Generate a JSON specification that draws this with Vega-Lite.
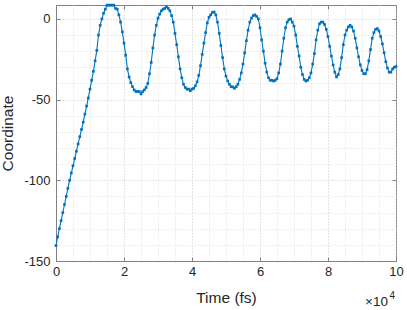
{
  "$schema": "https://vega.github.io/schema/vega-lite/v6.json",
  "width": 340,
  "height": 256,
  "autosize": {"type": "none"},
  "padding": {"left": 56, "top": 5, "right": 11, "bottom": 49},
  "background": "white",
  "config": {"view": {"stroke": "#808080", "strokeWidth": 1}, "font": "Liberation Sans"},
  "data": {"values": [
    {"t":0,"c":-140.5},{"t":500,"c":-135},{"t":1000,"c":-130},{"t":1500,"c":-125},{"t":2000,"c":-120},
    {"t":2500,"c":-115},{"t":3000,"c":-110},{"t":3500,"c":-105},{"t":4000,"c":-100},{"t":4500,"c":-95.5},
    {"t":5000,"c":-91},{"t":5500,"c":-86.5},{"t":6000,"c":-82},{"t":6500,"c":-77.5},{"t":7000,"c":-73},
    {"t":7500,"c":-68.5},{"t":8000,"c":-64},{"t":8500,"c":-59},{"t":9000,"c":-54},{"t":9500,"c":-49},
    {"t":10000,"c":-43.5},{"t":10500,"c":-38},{"t":11000,"c":-32.5},{"t":11500,"c":-26},{"t":12000,"c":-19.5},
    {"t":12500,"c":-10},{"t":13000,"c":-4},{"t":13500,"c":0},{"t":14000,"c":3.5},{"t":14500,"c":6},
    {"t":15000,"c":8.5},{"t":15500,"c":8.5},{"t":16000,"c":8.5},{"t":16500,"c":8.5},{"t":17000,"c":8.5},
    {"t":17500,"c":6.5},{"t":18000,"c":6},{"t":18500,"c":2.5},{"t":19000,"c":-2},{"t":19500,"c":-8},
    {"t":20000,"c":-15},{"t":20500,"c":-22.5},{"t":21000,"c":-31},{"t":21500,"c":-36},{"t":22000,"c":-39.5},
    {"t":22500,"c":-42},{"t":23000,"c":-44},{"t":23500,"c":-45},{"t":24000,"c":-45},{"t":24500,"c":-45},
    {"t":25000,"c":-46.5},{"t":25500,"c":-45},{"t":26000,"c":-44},{"t":26500,"c":-42.5},{"t":27000,"c":-40},
    {"t":27500,"c":-34},{"t":28000,"c":-27},{"t":28500,"c":-18},{"t":29000,"c":-10},{"t":29500,"c":-4},
    {"t":30000,"c":0.5},{"t":30500,"c":3},{"t":31000,"c":5},{"t":31500,"c":6},{"t":32000,"c":6.5},
    {"t":32500,"c":7.5},{"t":33000,"c":6.5},{"t":33500,"c":5},{"t":34000,"c":2},{"t":34500,"c":-2},
    {"t":35000,"c":-9},{"t":35500,"c":-16},{"t":36000,"c":-23.5},{"t":36500,"c":-31},{"t":37000,"c":-36.5},
    {"t":37500,"c":-40.5},{"t":38000,"c":-42.5},{"t":38500,"c":-43.5},{"t":39000,"c":-43.5},{"t":39500,"c":-44.5},
    {"t":40000,"c":-43.5},{"t":40500,"c":-43},{"t":41000,"c":-41.5},{"t":41500,"c":-39},{"t":42000,"c":-35},
    {"t":42500,"c":-29},{"t":43000,"c":-22},{"t":43500,"c":-15},{"t":44000,"c":-8.5},{"t":44500,"c":-2.5},
    {"t":45000,"c":1},{"t":45500,"c":2.5},{"t":46000,"c":4},{"t":46500,"c":4.3},{"t":47000,"c":2.5},
    {"t":47500,"c":-2},{"t":48000,"c":-9},{"t":48500,"c":-16.5},{"t":49000,"c":-24},{"t":49500,"c":-31},
    {"t":50000,"c":-35.5},{"t":50500,"c":-38.5},{"t":51000,"c":-40.5},{"t":51500,"c":-42},{"t":52000,"c":-42.2},
    {"t":52500,"c":-43},{"t":53000,"c":-42},{"t":53500,"c":-40.5},{"t":54000,"c":-37.5},{"t":54500,"c":-33.5},
    {"t":55000,"c":-28},{"t":55500,"c":-21},{"t":56000,"c":-13.5},{"t":56500,"c":-7},{"t":57000,"c":-2},
    {"t":57500,"c":0.5},{"t":58000,"c":2},{"t":58500,"c":2.5},{"t":59000,"c":1.5},{"t":59500,"c":0},
    {"t":60000,"c":-5.5},{"t":60500,"c":-13},{"t":61000,"c":-20},{"t":61500,"c":-27.5},{"t":62000,"c":-33},
    {"t":62500,"c":-36.5},{"t":63000,"c":-38},{"t":63500,"c":-38},{"t":64000,"c":-38.5},{"t":64500,"c":-38},
    {"t":65000,"c":-37},{"t":65500,"c":-33.5},{"t":66000,"c":-28},{"t":66500,"c":-20},{"t":67000,"c":-12},
    {"t":67500,"c":-5.5},{"t":68000,"c":-2},{"t":68500,"c":-0.5},{"t":69000,"c":0},{"t":69500,"c":-2},
    {"t":70000,"c":-4.5},{"t":70500,"c":-10},{"t":71000,"c":-17},{"t":71500,"c":-23},{"t":72000,"c":-30},
    {"t":72500,"c":-34.5},{"t":73000,"c":-37.5},{"t":73500,"c":-38.5},{"t":74000,"c":-38},{"t":74500,"c":-36.5},
    {"t":75000,"c":-33.5},{"t":75500,"c":-28},{"t":76000,"c":-21.5},{"t":76500,"c":-13},{"t":77000,"c":-7},
    {"t":77500,"c":-3},{"t":78000,"c":-2},{"t":78500,"c":-2},{"t":79000,"c":-3.5},{"t":79500,"c":-6.5},
    {"t":80000,"c":-11},{"t":80500,"c":-17},{"t":81000,"c":-23},{"t":81500,"c":-28.5},{"t":82000,"c":-33},
    {"t":82500,"c":-36},{"t":83000,"c":-34.5},{"t":83500,"c":-31},{"t":84000,"c":-24},{"t":84500,"c":-16},
    {"t":85000,"c":-10},{"t":85500,"c":-7},{"t":86000,"c":-5},{"t":86500,"c":-4},{"t":87000,"c":-5},
    {"t":87500,"c":-7.5},{"t":88000,"c":-12},{"t":88500,"c":-18},{"t":89000,"c":-23.5},{"t":89500,"c":-28.5},
    {"t":90000,"c":-32},{"t":90500,"c":-34},{"t":91000,"c":-34},{"t":91500,"c":-31.5},{"t":92000,"c":-26},
    {"t":92500,"c":-19},{"t":93000,"c":-12},{"t":93500,"c":-8.5},{"t":94000,"c":-6.5},{"t":94500,"c":-6},
    {"t":95000,"c":-7.5},{"t":95500,"c":-11},{"t":96000,"c":-15.5},{"t":96500,"c":-21},{"t":97000,"c":-26.5},
    {"t":97500,"c":-30.5},{"t":98000,"c":-33},{"t":98500,"c":-33},{"t":99000,"c":-31},{"t":99500,"c":-30},
    {"t":100000,"c":-29.5}
  ]},
  "resolve": {"axis": {"x": "independent", "y": "independent"}},
  "layer": [
    {
      "mark": {"type": "line", "color": "#0072BD", "strokeWidth": 1.1,
               "point": {"filled": true, "size": 7, "shape": "square", "color": "#0072BD"}},
      "encoding": {
        "x": {"field": "t", "type": "quantitative",
              "scale": {"domain": [0, 100000], "nice": false, "zero": false},
              "axis": {"orient": "bottom",
                       "values": [0,5000,10000,15000,20000,25000,30000,35000,40000,45000,50000,55000,60000,65000,70000,75000,80000,85000,90000,95000,100000],
                       "labelExpr": "datum.value % 20000 === 0 ? '' + (datum.value / 10000) : ''",
                       "labelOverlap": false, "labelFlush": false,
                       "labelFontSize": 13, "labelColor": "#262626", "labelPadding": 8,
                       "tickSize": -4, "tickColor": "#808080",
                       "tickOpacity": {"condition": {"test": "datum.value % 20000 === 0", "value": 1}, "value": 0},
                       "grid": true, "gridDash": [1, 2],
                       "gridColor": {"condition": {"test": "datum.value % 20000 === 0", "value": "#c8c8c8"}, "value": "#dedede"},
                       "domainColor": "#808080",
                       "title": "Time (fs)", "titleFontSize": 15.5, "titleFontWeight": "normal",
                       "titleColor": "#262626", "titlePadding": 12}},
        "y": {"field": "c", "type": "quantitative",
              "scale": {"domain": [-150, 8.6], "nice": false, "zero": false},
              "axis": {"orient": "left",
                       "values": [-150,-140,-130,-120,-110,-100,-90,-80,-70,-60,-50,-40,-30,-20,-10,0],
                       "labelExpr": "datum.value % 50 === 0 ? '' + datum.value : ''",
                       "labelOverlap": false, "labelFlush": false,
                       "labelFontSize": 13, "labelColor": "#262626", "labelPadding": 10,
                       "tickSize": -4, "tickColor": "#808080",
                       "tickOpacity": {"condition": {"test": "datum.value % 50 === 0", "value": 1}, "value": 0},
                       "grid": true, "gridDash": [1, 2],
                       "gridColor": {"condition": {"test": "datum.value % 50 === 0", "value": "#c8c8c8"}, "value": "#dedede"},
                       "domainColor": "#808080",
                       "title": "Coordinate", "titleFontSize": 15.5, "titleFontWeight": "normal",
                       "titleColor": "#262626", "titlePadding": 8}}
      }
    },
    {
      "mark": {"type": "line", "opacity": 0},
      "encoding": {
        "x": {"field": "t", "type": "quantitative",
              "axis": {"orient": "top", "values": [0,20000,40000,60000,80000,100000],
                       "labels": false, "grid": false, "domain": false, "title": null,
                       "tickSize": -4, "tickColor": "#808080"}},
        "y": {"field": "c", "type": "quantitative",
              "axis": {"orient": "right", "values": [-150,-100,-50,0],
                       "labels": false, "grid": false, "domain": false, "title": null,
                       "tickSize": -4, "tickColor": "#808080"}}
      }
    },
    {
      "data": {"values": [{"t": 100000, "c": -150, "s": "×10", "p": "4"}]},
      "layer": [
        {"mark": {"type": "text", "align": "right", "baseline": "alphabetic", "dx": -8, "dy": 45, "fontSize": 13.5, "color": "#262626"},
         "encoding": {"x": {"field": "t", "type": "quantitative", "axis": null},
                      "y": {"field": "c", "type": "quantitative", "axis": null},
                      "text": {"field": "s"}}},
        {"mark": {"type": "text", "align": "right", "baseline": "alphabetic", "dx": -1, "dy": 38, "fontSize": 10, "color": "#262626"},
         "encoding": {"x": {"field": "t", "type": "quantitative", "axis": null},
                      "y": {"field": "c", "type": "quantitative", "axis": null},
                      "text": {"field": "p"}}}
      ]
    }
  ]
}
